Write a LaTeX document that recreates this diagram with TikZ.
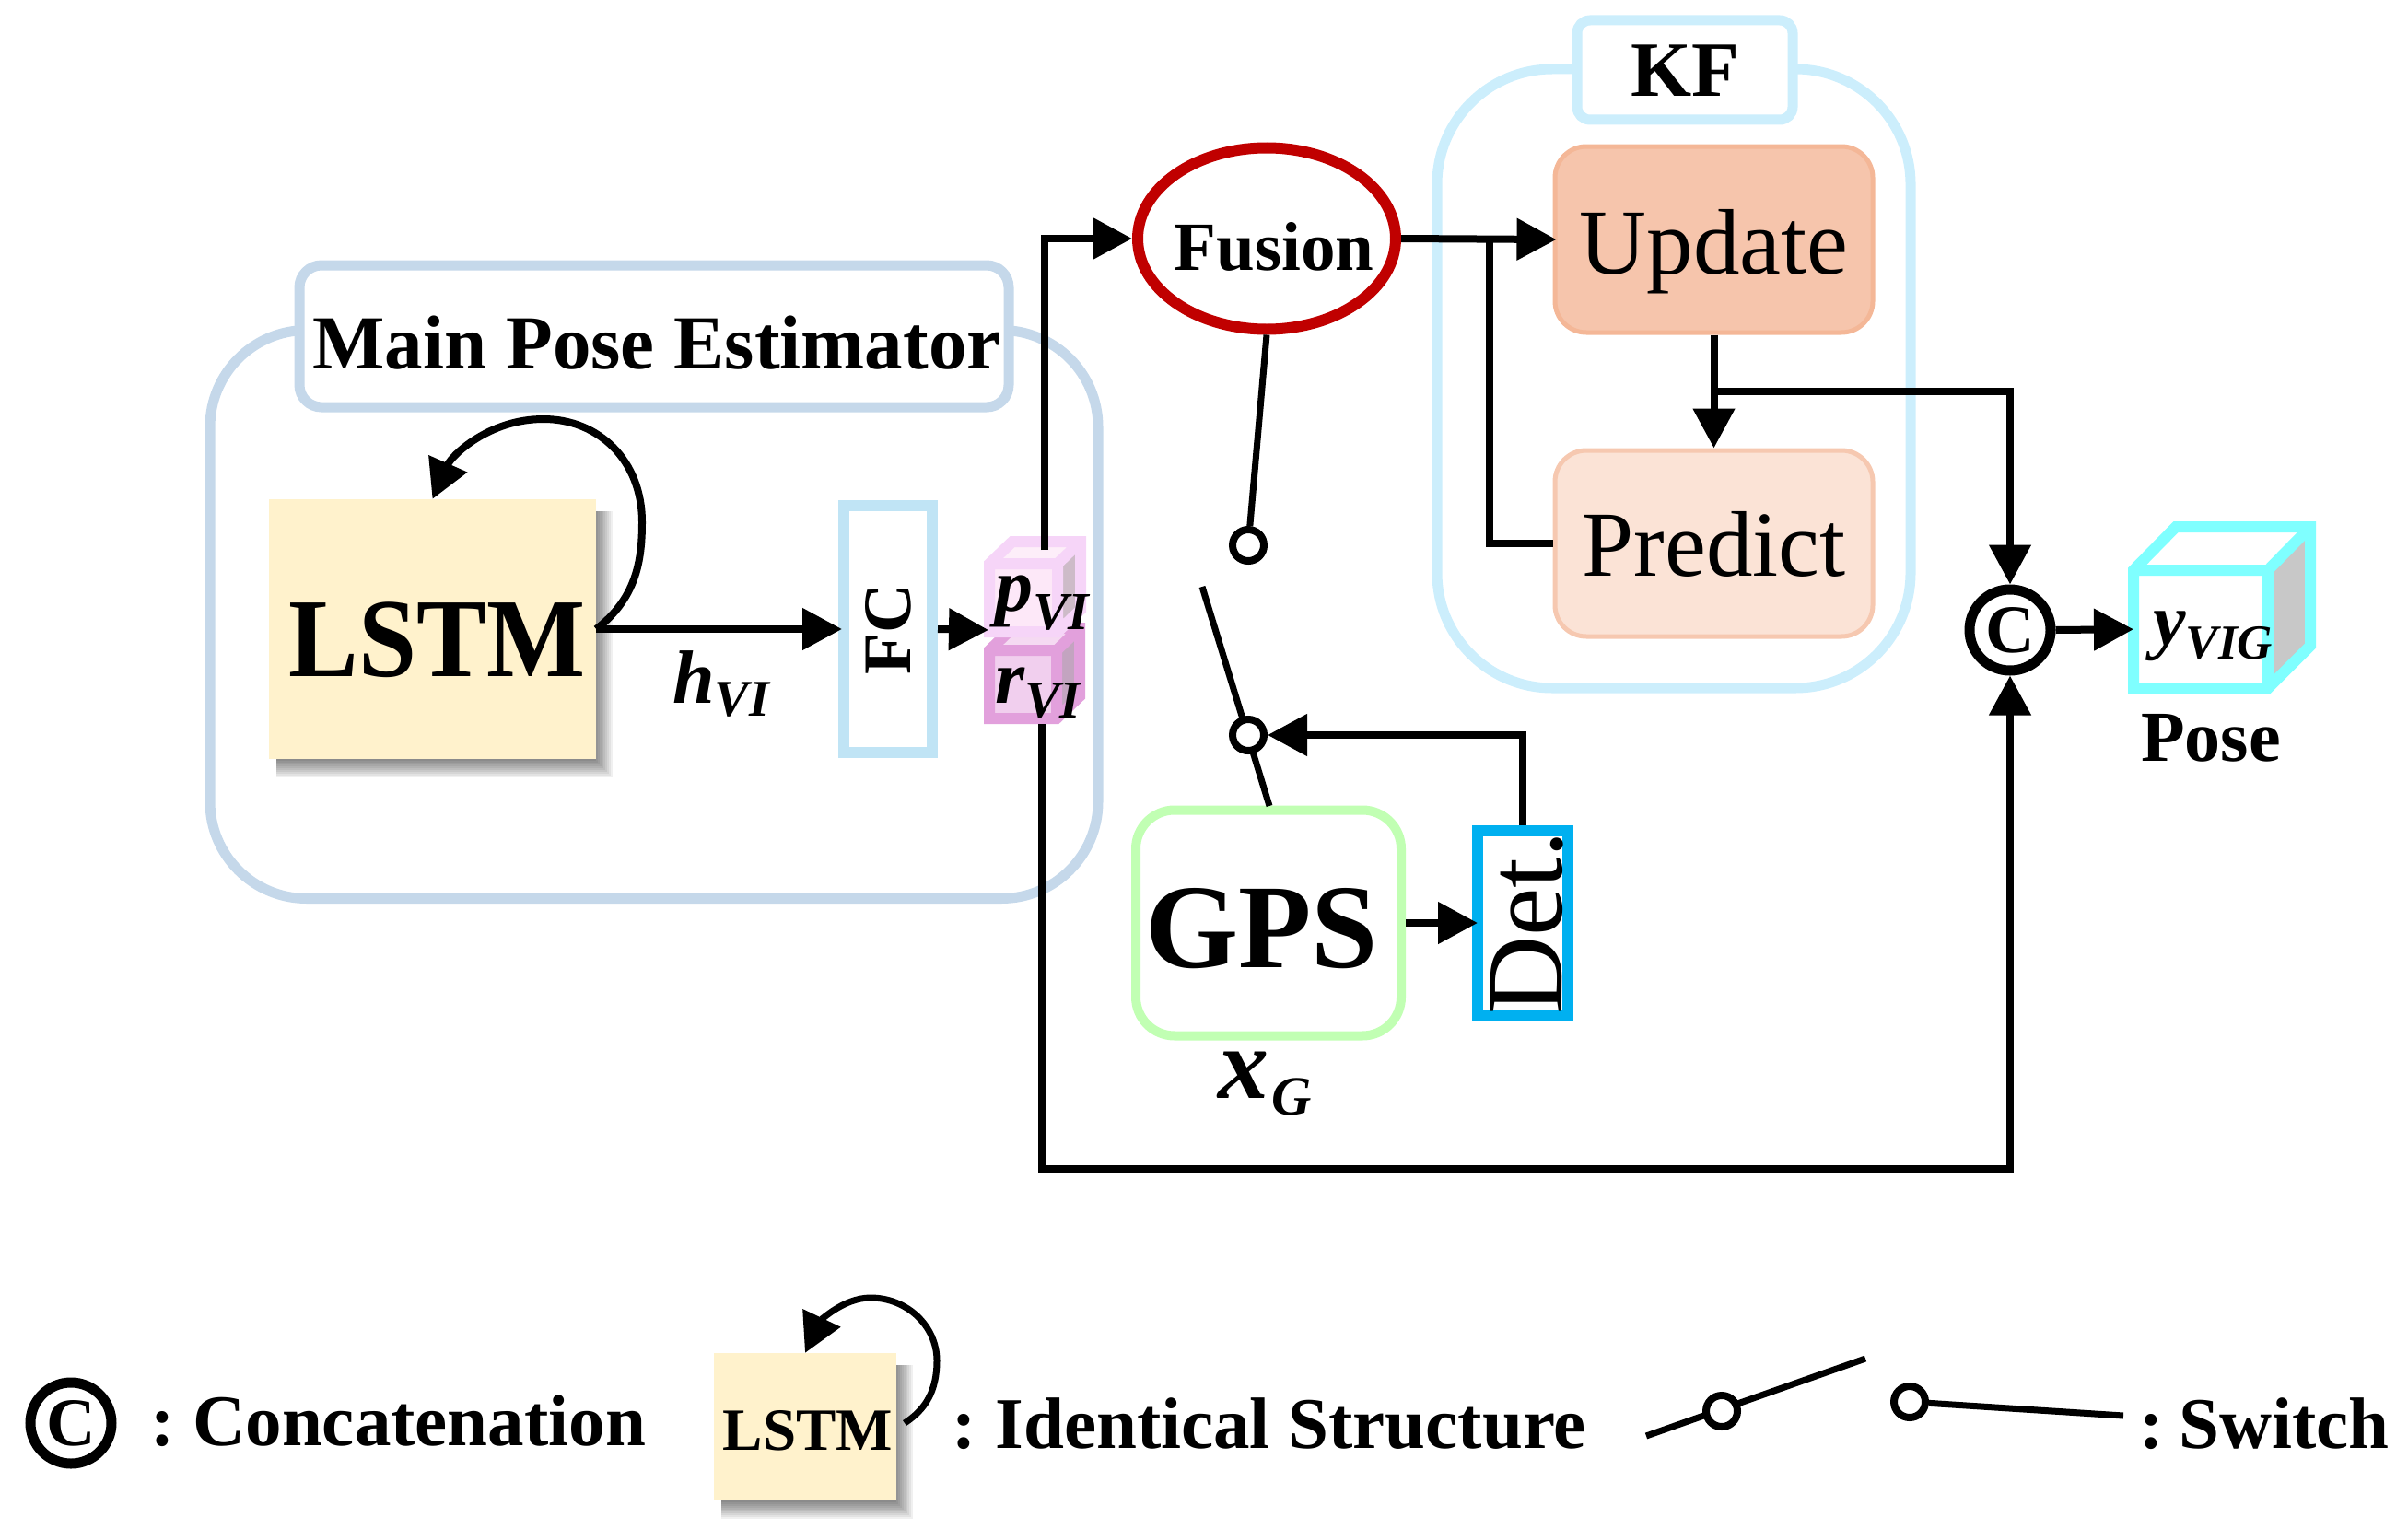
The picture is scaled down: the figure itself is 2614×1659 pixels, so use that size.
\documentclass[tikz,border=0pt]{standalone}
\usepackage{fontspec}
\setmainfont{Liberation Serif}
\usetikzlibrary{arrows.meta,shapes.geometric}
\definecolor{mainblue}{HTML}{C5D8EA}
\definecolor{fcblue}{HTML}{C0E4F5}
\definecolor{kfblue}{HTML}{CCEEFC}
\definecolor{lstmfill}{HTML}{FFF2CC}
\definecolor{fusred}{HTML}{C00000}
\definecolor{updfill}{HTML}{F6C5AC}
\definecolor{updline}{HTML}{F4B797}
\definecolor{prefill}{HTML}{FBE3D6}
\definecolor{preline}{HTML}{F6C8B0}
\definecolor{gpsgreen}{HTML}{C1FFB3}
\definecolor{detblue}{HTML}{00B0F0}
\definecolor{cubecyan}{HTML}{7FFFFF}
\definecolor{sidegrey}{HTML}{C8C8C8}
\definecolor{pline}{HTML}{F6D5F8}
\definecolor{pfront}{HTML}{FDE8F8}
\definecolor{ptop}{HTML}{FDEEF9}
\definecolor{pside}{HTML}{CDBBC8}
\definecolor{rline}{HTML}{E2A0DC}
\definecolor{rfront}{HTML}{F1CFEE}
\definecolor{rtop}{HTML}{F5DAF2}
\definecolor{rside}{HTML}{C3A4C0}
\newcommand{\fsz}[1]{\fontsize{#1pt}{#1pt}\selectfont}
\newcommand{\softshadow}[4]{%
  \foreach \s in {12,10,8,6,4,2,0,-2,-4,-6}{%
    \fill[black,opacity=.06] (#1+8,#2+13) rectangle (#3+6+\s,#4+8+\s);}}
\tikzset{
  every node/.style={inner sep=0pt},
  arr/.style={line width=8pt,line join=miter,-{Triangle[length=43pt,width=44pt]}},
  arrin/.style={arr,shorten >=-4pt},
  wire/.style={line width=8pt,line join=miter},
  loopw/.style={line width=8pt,-{Triangle[length=42pt,width=44pt]}},
  tb/.style={text height=#1,text depth=0pt},
  lbl/.style={anchor=base west,font=\bfseries\itshape},
  swc/.style={circle,draw=black,fill=white,line width=8pt,minimum size=34pt},
  conc/.style={circle,draw=black,fill=white,line width=11pt,minimum size=88pt,font=\bfseries\fsz{74}},
  cubeline/.style={line width=12pt,line join=miter},
  legtxt/.style={anchor=base west,font=\bfseries\fsz{79}},
}
\begin{document}
\begin{tikzpicture}[x=1pt,y=-1pt]
\useasboundingbox (0,0) rectangle (2614,1659);
% Main pose estimator container
\node (mainouter) [rectangle,draw=mainblue,line width=11pt,rounded corners=105pt,minimum width=964pt,minimum height=617pt] at (710,667) {};
\node (maintitle) [rectangle,draw=mainblue,fill=white,line width=11pt,rounded corners=24pt,minimum width=770pt,minimum height=154pt,tb=70pt,font=\bfseries\fsz{83}] at (710,365) {\hspace{6pt}Main Pose Estimator};
% KF container
\node (kfouter) [rectangle,draw=kfblue,line width=11pt,rounded corners=125pt,minimum width=514pt,minimum height=672pt] at (1817,411) {};
\node (kftitle) [rectangle,draw=kfblue,fill=white,line width=11pt,rounded corners=14pt,minimum width=234pt,minimum height=108pt,tb=58pt,font=\bfseries\fsz{85}] at (1829,76) {KF};
% LSTM
\softshadow{292}{542}{647}{824}
\node (lstm) [rectangle,fill=lstmfill,minimum width=355pt,minimum height=282pt,tb=102pt,font=\bfseries\fsz{122}] at (469.5,683) {\hspace{10pt}\scalebox{.93}[1]{LSTM}};
\node (fc) [rectangle,draw=fcblue,fill=white,line width=12pt,minimum width=96pt,minimum height=268pt,font=\bfseries\fsz{74}] at (964,683) {\rotatebox{90}{FC}};
% r cube
\fill[rfront] (1074,706) rectangle (1147,780);
\fill[rside] (1147,706) -- (1172,682) -- (1172,756) -- (1147,780) -- cycle;
\fill[rtop] (1074,706) -- (1099,682) -- (1172,682) -- (1147,706) -- cycle;
\draw[cubeline,draw=rline] (1074,706) -- (1099,682) -- (1172,682) -- (1172,756) -- (1147,780) -- (1074,780) -- cycle (1074,706) -- (1147,706) -- (1147,780) (1147,706) -- (1172,682);
% p cube
\fill[pfront] (1074,612) rectangle (1148,686);
\fill[pside] (1148,612) -- (1173,588) -- (1173,662) -- (1148,686) -- cycle;
\fill[ptop] (1074,612) -- (1099,588) -- (1173,588) -- (1148,612) -- cycle;
\draw[cubeline,draw=pline] (1074,612) -- (1099,588) -- (1173,588) -- (1173,662) -- (1148,686) -- (1074,686) -- cycle (1074,612) -- (1148,612) -- (1148,686) (1148,612) -- (1173,588);
% y cube
\fill[white] (2316,619) rectangle (2462,747);
\fill[sidegrey] (2462,619) -- (2508,572) -- (2508,701) -- (2462,747) -- cycle;
\draw[cubeline,draw=cubecyan] (2316,619) -- (2362,572) -- (2508,572) -- (2508,701) -- (2462,747) -- (2316,747) -- cycle (2316,619) -- (2462,619) -- (2462,747) (2462,619) -- (2508,572);
\node (ycube) [rectangle,minimum width=146pt,minimum height=128pt,anchor=north west] at (2316,619) {};
% KF boxes
\node (update) [rectangle,draw=updline,fill=updfill,line width=5pt,rounded corners=34pt,minimum width=345pt,minimum height=202pt,tb=74pt,font=\fsz{101}] at (1860.5,260) {Update};
\node (predict) [rectangle,draw=preline,fill=prefill,line width=5pt,rounded corners=34pt,minimum width=345pt,minimum height=202pt,tb=70pt,font=\fsz{101}] at (1860.5,590) {Predict};
% Fusion
\node (fusion) [ellipse,draw=fusred,fill=white,line width=12pt,minimum width=280pt,minimum height=197pt,tb=68pt,font=\bfseries\fsz{75}] at (1375,259) {\makebox[0pt]{\hspace{16pt}Fusion}};
% GPS / Det
\node (gps) [rectangle,draw=gpsgreen,fill=white,line width=10pt,rounded corners=42pt,minimum width=288pt,minimum height=245pt,tb=96pt,font=\bfseries\fsz{130}] at (1377,1002) {GPS\hspace{15pt}\null};
\node (det) [rectangle,draw=detblue,fill=white,line width=12pt,minimum width=98pt,minimum height=198pt,font=\fsz{118}] at (1653,1002) {\hspace{10pt}\rotatebox{90}{Det.}};
% switch
\coordinate (levertop) at (1305,637);
\coordinate (leverbot) at (1378,875);
\draw[wire,line width=7pt] (levertop) -- (leverbot);
\node (swa) [swc] at (1355,592) {};
\node (swb) [swc] at (1355,798) {};
\draw[wire,line width=7pt] (fusion.south) -- (swa);
% concat
\node (cc) [conc] at (2182,684) {C};
% connectors
\coordinate (pout) at (1134,597);
\coordinate (rout) at (1131,786);
\coordinate (rbot) at (1131,1269);
\coordinate (junk) at (1617,260);
\coordinate (updj) at (1860.5,425);
\coordinate (fcin) at (1073,684);
\draw[arrin] (lstm.east) -- (fc.west);
\draw[arr] (fc.east) -- (fcin);
\draw[arr] (pout) |- (fusion.west);
\draw[arrin] (fusion.east) -- (update.west);
\draw[wire] (predict.west) -| (junk);
\draw[arr] (update.south) -- (predict.north);
\draw[arr] (updj) -| (cc.north);
\draw[arr] (rout) -- (rbot) -| (cc.south);
\draw[arr] (cc.east) -- (ycube.west);
\draw[arr,shorten >=-6pt] (gps.east) -- (det.west);
\draw[arr] (det.north) |- (swb.east);
\draw[loopw] (lstm.east) .. controls (690,650) and (697,610) .. (697,567) .. controls (697,500) and (650,455) .. (590,455) .. controls (530,455) and (490,495) .. (lstm.north);
% labels
\node (hvi) [lbl] at (730,763) {\fsz{82}h\raisebox{-14pt}{\fsz{56}VI}};
\node (pvi) [lbl] at (1080,663) {\fsz{82}p\raisebox{-20pt}{\fsz{58}VI}};
\node (rvi) [lbl] at (1080,763) {\fsz{82}r\raisebox{-16pt}{\fsz{58}VI}};
\node (xg) [lbl] at (1322,1192) {\fsz{110}x\raisebox{-18pt}{\hspace{3pt}\fsz{60}G}};
\node (yvig) [lbl] at (2337,700) {\fsz{80}y\raisebox{-15pt}{\fsz{53}VIG}};
\node (pose) [anchor=base,font=\bfseries\fsz{78}] at (2400,826) {Pose};
% legend
\node (lcc) [conc] at (77,1545) {C};
\node (lconc) [legtxt] at (163,1569) {:\hspace{20pt}Concatenation};
\softshadow{775}{1469}{973}{1629}
\node (llstm) [rectangle,fill=lstmfill,minimum width=198pt,minimum height=160pt,tb=50pt,font=\bfseries\fsz{65}] at (874,1549) {\hspace{6pt}LSTM};
\coordinate (lloop) at (982,1545);
\draw[loopw,line width=7pt] (lloop) .. controls (1005,1530) and (1017,1510) .. (1017,1477) .. controls (1017,1440) and (985,1409) .. (945,1409) .. controls (915,1409) and (890,1435) .. (llstm.north);
\node (lident) [legtxt] at (1033,1572) {:\hspace{21pt}Identical Structure};
\coordinate (s1a) at (1787,1559);
\coordinate (s1b) at (2025,1475);
\coordinate (s2b) at (2305,1537);
\draw[wire,line width=7pt] (s1a) -- (s1b);
\node (ls1) [swc] at (1869,1532) {};
\node (ls2) [swc] at (2073,1522) {};
\draw[wire,line width=7pt] (ls2) -- (s2b);
\node (lsw) [legtxt] at (2322,1572) {:\hspace{17pt}Switch};
\end{tikzpicture}
\end{document}
